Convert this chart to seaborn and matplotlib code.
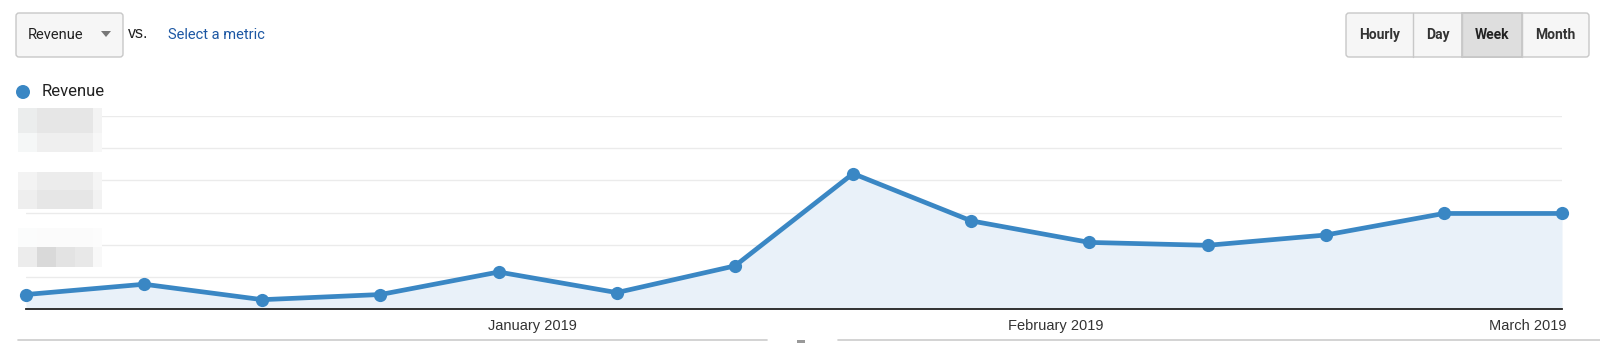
import numpy as np
import pandas as pd
import matplotlib
matplotlib.use("Agg")
import matplotlib.pyplot as plt
import matplotlib.dates as mdates
from matplotlib.patches import FancyBboxPatch, Rectangle, Circle, Polygon
import seaborn as sns

# ---- data ----
week_start = pd.Timestamp("2018-12-02")
weeks = pd.date_range(week_start, periods=14, freq="7D")
revenue = [225, 385, 145, 225, 575, 255, 670, 2105, 1370, 1035, 990, 1150, 1485, 1485]
month_ticks = pd.to_datetime(["2019-01-01", "2019-02-01", "2019-03-01"])
month_labels = ["January 2019", "February 2019", "March 2019"]
y_grid = [0, 500, 1000, 1500, 2000, 2500, 3000]
buttons = ["Hourly", "Day", "Week", "Month"]

df = pd.DataFrame({"week": weeks, "revenue": revenue})

sns.set_theme(style="white")
plt.rcParams["font.family"] = ["Roboto", "DejaVu Sans"]

W, H = 1600, 343
fig = plt.figure(figsize=(16, 3.43), dpi=100)

LINE = "#3a87c4"
FILL = "#e9f1f9"

# ---- main chart ----
x0, x1, ytop, ybot = 26, 1562, 116, 309
ax = fig.add_axes([x0 / W, (H - ybot) / H, (x1 - x0) / W, (ybot - ytop) / H])
ax.fill_between(df["week"], df["revenue"], 0, color=FILL, zorder=1, lw=0)
sns.lineplot(data=df, x="week", y="revenue", ax=ax, color=LINE, lw=3.4,
             marker="o", markersize=9.5, markeredgewidth=0, zorder=3, clip_on=False)
ax.set_xlim(weeks[0], weeks[-1])
ax.set_ylim(0, 3000)
ax.set_yticks(y_grid)
ax.set_yticklabels([])
ax.tick_params(axis="y", length=0)
for g in y_grid[1:]:
    ax.axhline(g, color="#ebebeb", lw=1, zorder=0)
ax.set_xticks(month_ticks)
ax.set_xticklabels(month_labels, fontsize=10.5, color="#333333",
                   family=["Liberation Sans", "DejaVu Sans"])
ax.tick_params(axis="x", length=0, pad=7)
ax.set_xlabel("")
ax.set_ylabel("")
for s in ["top", "left", "right"]:
    ax.spines[s].set_visible(False)
ax.spines["bottom"].set_color("#222222")
ax.spines["bottom"].set_linewidth(1.3)
ax.patch.set_alpha(0)

# ---- overlay for UI decoration (pixel coords) ----
ov = fig.add_axes([0, 0, 1, 1], zorder=5)
ov.set_xlim(0, W)
ov.set_ylim(H, 0)
ov.axis("off")
ov.patch.set_alpha(0)

# blurred y labels
cols = [18, 37, 56, 75, 93, 102]
blocks = [
    (108, 133, ["#ebeded", "#e6e6e6", "#e6e6e6", "#e6e6e6", "#f3f3f3"]),
    (133, 152, ["#f5f7f7", "#efefef", "#efefef", "#efefef", "#f7f7f7"]),
    (172, 190, ["#f3f3f3", "#ececec", "#ececec", "#ececec", "#f5f5f5"]),
    (190, 209, ["#eeeeee", "#e6e6e6", "#e6e6e6", "#e6e6e6", "#f2f2f2"]),
    (228, 247, ["#fbfcfc", "#fbfbfb", "#fbfbfb", "#fbfbfb", "#fcfcfc"]),
    (247, 267, ["#ececec", "#d9d9d9", "#e3e3e3", "#e8e8e8", "#f8f8f8"]),
]
for (ya, yb, cs) in blocks:
    for i, c in enumerate(cs):
        ov.add_patch(Rectangle((cols[i], ya), cols[i + 1] - cols[i], yb - ya,
                               facecolor=c, edgecolor="none"))

# dropdown
ov.add_patch(FancyBboxPatch((16, 13), 107, 44, boxstyle="round,pad=0,rounding_size=3",
                            facecolor="#f6f6f6", edgecolor="#c8c8c8", lw=1))
ov.text(28, 35, "Revenue", fontsize=10.5, color="#222222", va="center", ha="left")
ov.add_patch(Polygon([[101, 31], [111, 31], [106, 37]], closed=True,
                     facecolor="#777777", edgecolor="none"))
ov.text(128, 33, "vs.", fontsize=11.5, color="#222222", va="center", ha="left",
        family=["Liberation Sans", "DejaVu Sans"])
ov.text(168, 35, "Select a metric", fontsize=10.5, color="#1c57a3", va="center", ha="left")

# legend
ov.add_patch(Circle((23, 92), 7, facecolor=LINE, edgecolor="none"))
ov.text(42, 92, "Revenue", fontsize=12, color="#222222", va="center", ha="left")

# buttons
edges = [1346, 1413, 1462, 1522, 1589]
ov.add_patch(FancyBboxPatch((edges[0], 13), edges[-1] - edges[0], 44,
                            boxstyle="round,pad=0,rounding_size=3",
                            facecolor="#f6f6f6", edgecolor="#c8c8c8", lw=1))
ov.add_patch(Rectangle((edges[2], 13), edges[3] - edges[2], 44,
                       facecolor="#dedede", edgecolor="#c4c4c4", lw=1.2))
for e in edges[1:-1]:
    ov.plot([e, e], [13, 57], color="#c8c8c8", lw=1)
for i, b in enumerate(buttons):
    ov.text((edges[i] + edges[i + 1]) / 2, 35, b, fontsize=10, fontweight="bold",
            color="#222222" if b == "Week" else "#333333", ha="center", va="center")

# bottom navigator line
ov.plot([18, 767], [339.5, 339.5], color="#cccccc", lw=1.2)
ov.plot([838, 1600], [339.5, 339.5], color="#cccccc", lw=1.2)
ov.add_patch(Rectangle((797, 340), 8, 3, facecolor="#999999", edgecolor="none"))

fig.savefig("out.png", dpi=100, facecolor="white")
